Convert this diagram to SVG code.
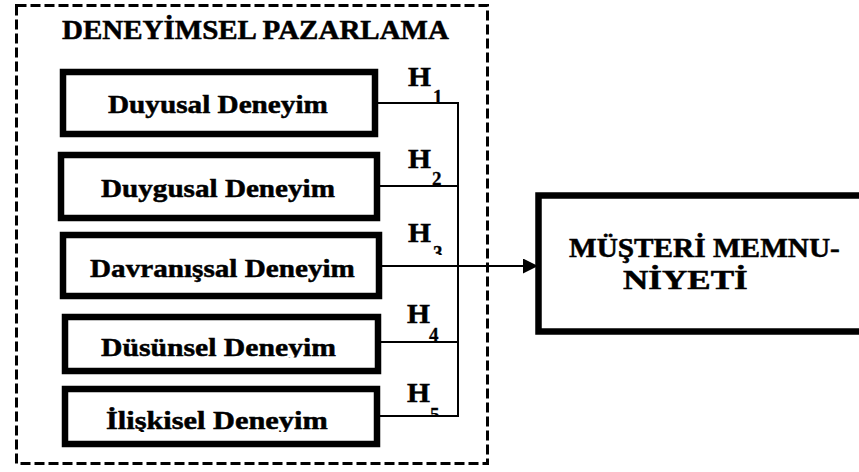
<svg xmlns="http://www.w3.org/2000/svg" width="859" height="472" viewBox="0 0 859 472">
<style>
.t{font-family:"Liberation Serif","Times New Roman",serif;font-weight:bold;fill:#000;stroke:#000;stroke-width:0.5}
.b{font-size:26px}
.h{font-size:28px}
.s{font-size:19px;stroke-width:0.3}
.box{fill:#fff;stroke:#000;stroke-width:6.5}
.ln{fill:none;stroke:#000;stroke-width:2}
</style>
<defs>
<marker id="arr" markerWidth="15" markerHeight="15" refX="15" refY="7.5" orient="auto" markerUnits="userSpaceOnUse">
<path d="M0,0 L15,7.5 L0,15 Z" fill="#000"/>
</marker>
<clipPath id="c3"><rect x="420" y="240" width="40" height="15"/></clipPath>
<clipPath id="c5"><rect x="420" y="400" width="40" height="16"/></clipPath>
<clipPath id="cb4"><rect x="70" y="320" width="300" height="37.5"/></clipPath>
<clipPath id="cb5"><rect x="70" y="392" width="300" height="40"/></clipPath>
</defs>
<rect width="859" height="472" fill="#fff"/>
<g id="frame">
<rect x="16.5" y="5.5" width="471" height="458" fill="none" stroke="#000" stroke-width="3" stroke-dasharray="10 4"/>
<text class="t" font-size="27.5" transform="translate(62,38.5) scale(1.055,1)">DENEYİMSEL PAZARLAMA</text>
</g>
<g id="n1">
<rect class="box" x="63" y="72" width="312" height="62"/>
<text class="t b" transform="translate(108,113) scale(1.124,1)">Duyusal Deneyim</text>
</g>
<g id="n2">
<rect class="box" x="61" y="155" width="316" height="63"/>
<text class="t b" transform="translate(101,196.5) scale(1.121,1)">Duygusal Deneyim</text>
</g>
<g id="n3">
<rect class="box" x="63" y="235" width="316" height="61"/>
<text class="t b" transform="translate(90,276.5) scale(1.122,1)">Davranışsal Deneyim</text>
</g>
<g id="n4">
<rect class="box" x="65" y="317" width="313" height="54"/>
<g clip-path="url(#cb4)">
<text class="t b" transform="translate(101,356) scale(1.142,1)">Düsünsel Deneyim</text>
</g>
</g>
<g id="n5">
<rect class="box" x="65" y="389" width="312" height="55"/>
<g clip-path="url(#cb5)">
<text class="t b" transform="translate(106,429) scale(1.168,1)">İlişkisel Deneyim</text>
</g>
</g>
<g id="n6">
<rect class="box" x="538.5" y="195.5" width="340" height="136" stroke-width="7"/>
<text class="t" font-size="27" transform="translate(569,257) scale(1.085,1)">MÜŞTERİ MEMNU-</text>
<text class="t" font-size="27" transform="translate(623,289) scale(1.3,1)">NİYETİ</text>
</g>
<g id="labels">
<text class="t h" transform="translate(408,86) scale(1.055,1)">H</text>
<text class="t s" x="433" y="103">1</text>
<text class="t h" transform="translate(408,168) scale(1.055,1)">H</text>
<text class="t s" x="432" y="185">2</text>
<text class="t h" transform="translate(408,242) scale(1.055,1)">H</text>
<g clip-path="url(#c3)"><text class="t s" x="433" y="259">3</text></g>
<text class="t h" transform="translate(407,323) scale(1.055,1)">H</text>
<text class="t s" x="429" y="340.5">4</text>
<text class="t h" transform="translate(407,402) scale(1.055,1)">H</text>
<g clip-path="url(#c5)"><text class="t s" x="430" y="421">5</text></g>
</g>
<g id="connectors">
<path class="ln" d="M378,103 H458 V416 H380"/>
<path class="ln" d="M380,186 H458"/>
<path class="ln" d="M382,266 H458"/>
<path class="ln" d="M381,342 H458"/>
<path class="ln" d="M458,266 H538" stroke-width="3" marker-end="url(#arr)"/>
</g>
</svg>
